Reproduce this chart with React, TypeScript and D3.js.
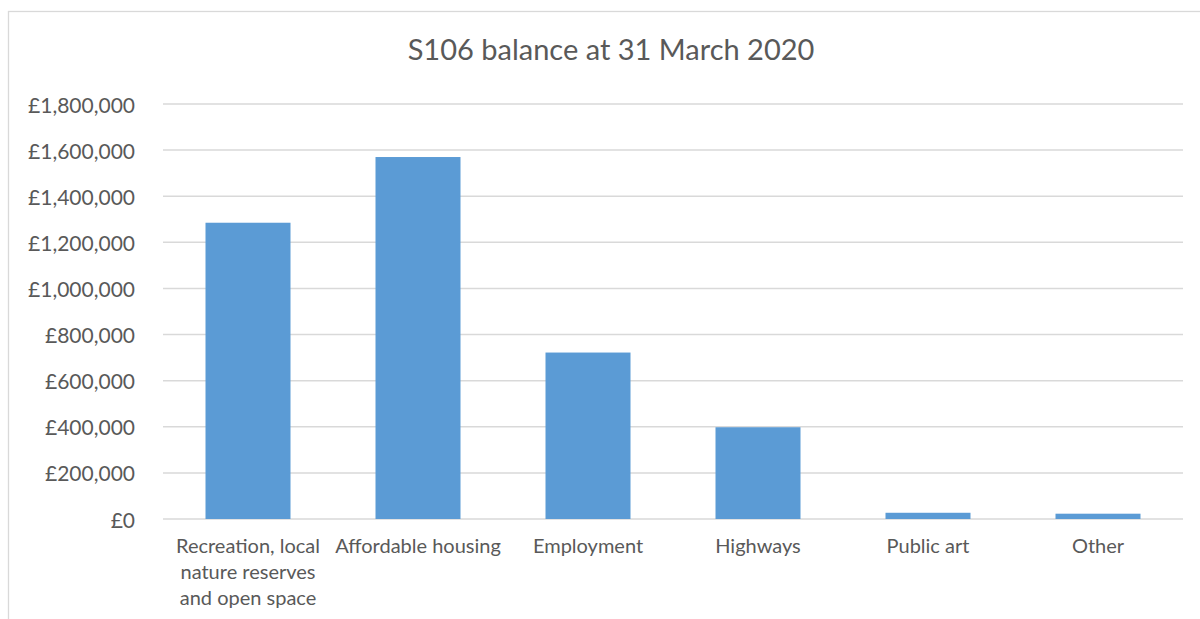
import React, { useEffect, useRef } from "react";
import * as d3 from "d3";

const categories = [
  "Recreation, local nature reserves and open space",
  "Affordable housing",
  "Employment",
  "Highways",
  "Public art",
  "Other",
];
const balances = [1285000, 1570000, 722000, 398000, 27000, 23000];
const yTicks = [0, 200000, 400000, 600000, 800000, 1000000, 1200000, 1400000, 1600000, 1800000];
const title = "S106 balance at 31 March 2020";

const W = 1200;
const H = 619;
const FONT = "Lato, 'Open Sans', sans-serif";

export default function App() {
  const ref = useRef<SVGSVGElement>(null);

  useEffect(() => {
    const svg = d3.select(ref.current);
    svg.selectAll("*").remove();

    const left = 163, right = 1183, top = 104, bottom = 519;

    svg.append("rect")
      .attr("x", 8.5).attr("y", 11.5).attr("width", 1300).attr("height", 700)
      .attr("fill", "#fff").attr("stroke", "#D9D9D9").attr("stroke-width", 1.3);

    const x = d3.scaleBand().domain(categories).range([left, right]).paddingInner(0.5).paddingOuter(0.25);
    const y = d3.scaleLinear().domain([0, 1800000]).range([bottom, top]);

    svg.append("text")
      .attr("x", 611).attr("y", 53).attr("text-anchor", "middle").attr("dominant-baseline", "middle")
      .attr("font-family", FONT).attr("font-size", 29).attr("fill", "#595959").text(title);

    const fmt = (v: number) => "£" + d3.format(",")(v);

    const g = svg.append("g");
    g.selectAll("line.grid").data(yTicks).enter().append("line")
      .attr("x1", left).attr("x2", right)
      .attr("y1", (d) => y(d)).attr("y2", (d) => y(d))
      .attr("stroke", "#D9D9D9").attr("stroke-width", 1.5);

    g.selectAll("text.tick").data(yTicks).enter().append("text")
      .attr("x", 135).attr("y", (d) => y(d))
      .attr("text-anchor", "end").attr("dominant-baseline", "central")
      .attr("font-family", FONT).attr("font-size", 21).attr("fill", "#595959")
      .text((d) => fmt(d));

    g.selectAll("rect.bar").data(categories).enter().append("rect")
      .attr("x", (d) => x(d)!).attr("width", x.bandwidth())
      .attr("y", (d, i) => y(balances[i])).attr("height", (d, i) => bottom - y(balances[i]))
      .attr("fill", "#5B9BD5");

    const canvas = document.createElement("canvas");
    const ctx = canvas.getContext("2d")!;
    ctx.font = `20px ${FONT}`;
    const wrap = (s: string) => {
      const words = s.split(" ");
      const lines: string[] = [];
      let cur = "";
      for (const w of words) {
        const t = cur ? cur + " " + w : w;
        if (ctx.measureText(t).width > 168 && cur) {
          lines.push(cur);
          cur = w;
        } else cur = t;
      }
      if (cur) lines.push(cur);
      return lines;
    };

    categories.forEach((c) => {
      const cx = x(c)! + x.bandwidth() / 2;
      const lines = wrap(c);
      const t = svg.append("text")
        .attr("text-anchor", "middle").attr("font-family", FONT).attr("font-size", 20).attr("fill", "#595959");
      lines.forEach((l, i) => {
        t.append("tspan").attr("x", cx).attr("y", 553 + i * 26).text(l);
      });
    });
  }, []);

  return (
    <svg ref={ref} width={W} height={H} style={{ position: "absolute", left: 0, top: 0, background: "#fff" }} />
  );
}
